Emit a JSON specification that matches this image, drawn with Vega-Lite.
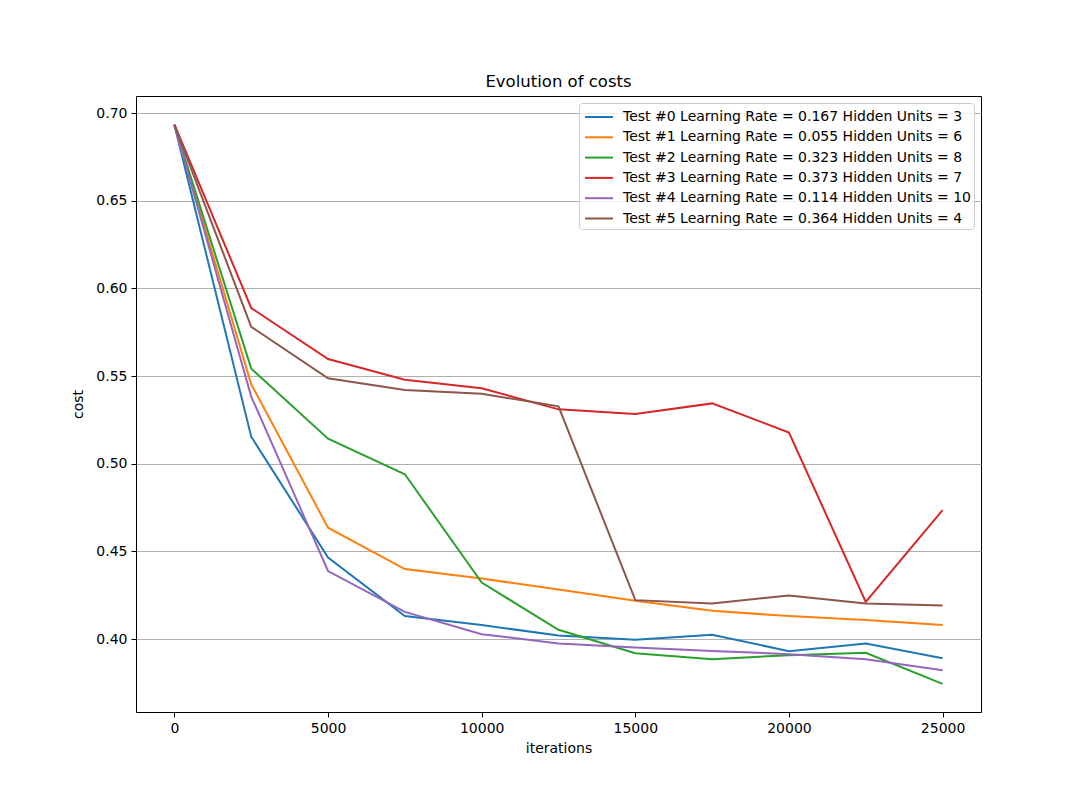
{
  "$schema": "https://vega.github.io/schema/vega-lite/v6.json",
  "description": "Evolution of costs for six training runs",
  "autosize": {"type": "none"},
  "padding": {"left": 136, "top": 96, "right": 109, "bottom": 88},
  "width": 845,
  "height": 616,
  "background": "white",
  "title": {"text": "Evolution of costs", "fontSize": 16.5, "fontWeight": "normal", "font": "DejaVu Sans", "color": "black", "offset": 6},
  "datasets": {
    "costs": [
      {"test": "Test #0 Learning Rate = 0.167 Hidden Units = 3", "iteration": 0, "cost": 0.6931},
      {"test": "Test #0 Learning Rate = 0.167 Hidden Units = 3", "iteration": 2500, "cost": 0.5154},
      {"test": "Test #0 Learning Rate = 0.167 Hidden Units = 3", "iteration": 5000, "cost": 0.4465},
      {"test": "Test #0 Learning Rate = 0.167 Hidden Units = 3", "iteration": 7500, "cost": 0.4131},
      {"test": "Test #0 Learning Rate = 0.167 Hidden Units = 3", "iteration": 10000, "cost": 0.408},
      {"test": "Test #0 Learning Rate = 0.167 Hidden Units = 3", "iteration": 12500, "cost": 0.402},
      {"test": "Test #0 Learning Rate = 0.167 Hidden Units = 3", "iteration": 15000, "cost": 0.3996},
      {"test": "Test #0 Learning Rate = 0.167 Hidden Units = 3", "iteration": 17500, "cost": 0.4025},
      {"test": "Test #0 Learning Rate = 0.167 Hidden Units = 3", "iteration": 20000, "cost": 0.3931},
      {"test": "Test #0 Learning Rate = 0.167 Hidden Units = 3", "iteration": 22500, "cost": 0.3975},
      {"test": "Test #0 Learning Rate = 0.167 Hidden Units = 3", "iteration": 25000, "cost": 0.389},
      {"test": "Test #1 Learning Rate = 0.055 Hidden Units = 6", "iteration": 0, "cost": 0.6931},
      {"test": "Test #1 Learning Rate = 0.055 Hidden Units = 6", "iteration": 2500, "cost": 0.5453},
      {"test": "Test #1 Learning Rate = 0.055 Hidden Units = 6", "iteration": 5000, "cost": 0.4635},
      {"test": "Test #1 Learning Rate = 0.055 Hidden Units = 6", "iteration": 7500, "cost": 0.4399},
      {"test": "Test #1 Learning Rate = 0.055 Hidden Units = 6", "iteration": 10000, "cost": 0.4345},
      {"test": "Test #1 Learning Rate = 0.055 Hidden Units = 6", "iteration": 12500, "cost": 0.4282},
      {"test": "Test #1 Learning Rate = 0.055 Hidden Units = 6", "iteration": 15000, "cost": 0.4218},
      {"test": "Test #1 Learning Rate = 0.055 Hidden Units = 6", "iteration": 17500, "cost": 0.4161},
      {"test": "Test #1 Learning Rate = 0.055 Hidden Units = 6", "iteration": 20000, "cost": 0.4131},
      {"test": "Test #1 Learning Rate = 0.055 Hidden Units = 6", "iteration": 22500, "cost": 0.4108},
      {"test": "Test #1 Learning Rate = 0.055 Hidden Units = 6", "iteration": 25000, "cost": 0.408},
      {"test": "Test #2 Learning Rate = 0.323 Hidden Units = 8", "iteration": 0, "cost": 0.6931},
      {"test": "Test #2 Learning Rate = 0.323 Hidden Units = 8", "iteration": 2500, "cost": 0.5542},
      {"test": "Test #2 Learning Rate = 0.323 Hidden Units = 8", "iteration": 5000, "cost": 0.5143},
      {"test": "Test #2 Learning Rate = 0.323 Hidden Units = 8", "iteration": 7500, "cost": 0.494},
      {"test": "Test #2 Learning Rate = 0.323 Hidden Units = 8", "iteration": 10000, "cost": 0.4322},
      {"test": "Test #2 Learning Rate = 0.323 Hidden Units = 8", "iteration": 12500, "cost": 0.4053},
      {"test": "Test #2 Learning Rate = 0.323 Hidden Units = 8", "iteration": 15000, "cost": 0.3919},
      {"test": "Test #2 Learning Rate = 0.323 Hidden Units = 8", "iteration": 17500, "cost": 0.3885},
      {"test": "Test #2 Learning Rate = 0.323 Hidden Units = 8", "iteration": 20000, "cost": 0.3908},
      {"test": "Test #2 Learning Rate = 0.323 Hidden Units = 8", "iteration": 22500, "cost": 0.3922},
      {"test": "Test #2 Learning Rate = 0.323 Hidden Units = 8", "iteration": 25000, "cost": 0.3744},
      {"test": "Test #3 Learning Rate = 0.373 Hidden Units = 7", "iteration": 0, "cost": 0.6935},
      {"test": "Test #3 Learning Rate = 0.373 Hidden Units = 7", "iteration": 2500, "cost": 0.5888},
      {"test": "Test #3 Learning Rate = 0.373 Hidden Units = 7", "iteration": 5000, "cost": 0.5597},
      {"test": "Test #3 Learning Rate = 0.373 Hidden Units = 7", "iteration": 7500, "cost": 0.5479},
      {"test": "Test #3 Learning Rate = 0.373 Hidden Units = 7", "iteration": 10000, "cost": 0.543},
      {"test": "Test #3 Learning Rate = 0.373 Hidden Units = 7", "iteration": 12500, "cost": 0.531},
      {"test": "Test #3 Learning Rate = 0.373 Hidden Units = 7", "iteration": 15000, "cost": 0.5283},
      {"test": "Test #3 Learning Rate = 0.373 Hidden Units = 7", "iteration": 17500, "cost": 0.5344},
      {"test": "Test #3 Learning Rate = 0.373 Hidden Units = 7", "iteration": 20000, "cost": 0.5178},
      {"test": "Test #3 Learning Rate = 0.373 Hidden Units = 7", "iteration": 22500, "cost": 0.4212},
      {"test": "Test #3 Learning Rate = 0.373 Hidden Units = 7", "iteration": 25000, "cost": 0.4735},
      {"test": "Test #4 Learning Rate = 0.114 Hidden Units = 10", "iteration": 0, "cost": 0.6931},
      {"test": "Test #4 Learning Rate = 0.114 Hidden Units = 10", "iteration": 2500, "cost": 0.5383},
      {"test": "Test #4 Learning Rate = 0.114 Hidden Units = 10", "iteration": 5000, "cost": 0.4388},
      {"test": "Test #4 Learning Rate = 0.114 Hidden Units = 10", "iteration": 7500, "cost": 0.4155},
      {"test": "Test #4 Learning Rate = 0.114 Hidden Units = 10", "iteration": 10000, "cost": 0.4028},
      {"test": "Test #4 Learning Rate = 0.114 Hidden Units = 10", "iteration": 12500, "cost": 0.3975},
      {"test": "Test #4 Learning Rate = 0.114 Hidden Units = 10", "iteration": 15000, "cost": 0.3952},
      {"test": "Test #4 Learning Rate = 0.114 Hidden Units = 10", "iteration": 17500, "cost": 0.3932},
      {"test": "Test #4 Learning Rate = 0.114 Hidden Units = 10", "iteration": 20000, "cost": 0.3914},
      {"test": "Test #4 Learning Rate = 0.114 Hidden Units = 10", "iteration": 22500, "cost": 0.3885},
      {"test": "Test #4 Learning Rate = 0.114 Hidden Units = 10", "iteration": 25000, "cost": 0.3822},
      {"test": "Test #5 Learning Rate = 0.364 Hidden Units = 4", "iteration": 0, "cost": 0.6933},
      {"test": "Test #5 Learning Rate = 0.364 Hidden Units = 4", "iteration": 2500, "cost": 0.5781},
      {"test": "Test #5 Learning Rate = 0.364 Hidden Units = 4", "iteration": 5000, "cost": 0.5487},
      {"test": "Test #5 Learning Rate = 0.364 Hidden Units = 4", "iteration": 7500, "cost": 0.542},
      {"test": "Test #5 Learning Rate = 0.364 Hidden Units = 4", "iteration": 10000, "cost": 0.5399},
      {"test": "Test #5 Learning Rate = 0.364 Hidden Units = 4", "iteration": 12500, "cost": 0.5327},
      {"test": "Test #5 Learning Rate = 0.364 Hidden Units = 4", "iteration": 15000, "cost": 0.4222},
      {"test": "Test #5 Learning Rate = 0.364 Hidden Units = 4", "iteration": 17500, "cost": 0.4203},
      {"test": "Test #5 Learning Rate = 0.364 Hidden Units = 4", "iteration": 20000, "cost": 0.4249},
      {"test": "Test #5 Learning Rate = 0.364 Hidden Units = 4", "iteration": 22500, "cost": 0.4203},
      {"test": "Test #5 Learning Rate = 0.364 Hidden Units = 4", "iteration": 25000, "cost": 0.4192}
    ]
  },
  "data": {"name": "costs"},
  "mark": {"type": "line", "strokeWidth": 2, "clip": true},
  "encoding": {
    "x": {
      "field": "iteration",
      "type": "quantitative",
      "title": "iterations",
      "scale": {"domain": [-1250, 26250], "nice": false, "zero": false},
      "axis": {"values": [0, 5000, 10000, 15000, 20000, 25000], "format": "d", "grid": false}
    },
    "y": {
      "field": "cost",
      "type": "quantitative",
      "title": "cost",
      "scale": {"domain": [0.3584, 0.7097], "nice": false, "zero": false},
      "axis": {"values": [0.4, 0.45, 0.5, 0.55, 0.6, 0.65, 0.7], "format": ".2f", "grid": true}
    },
    "color": {
      "field": "test",
      "type": "nominal",
      "title": null,
      "scale": {"range": ["#1f77b4", "#ff7f0e", "#2ca02c", "#d62728", "#9467bd", "#8c564b"]},
      "legend": {
        "orient": "top-right",
        "offset": 7,
        "symbolType": "M-1.4,0H1.4",
        "symbolSize": 400,
        "symbolStrokeWidth": 2,
        "symbolOffset": 6,
        "labelFontSize": 14,
        "labelColor": "black",
        "labelFont": "DejaVu Sans",
        "labelLimit": 500,
        "labelOffset": 13,
        "rowPadding": 2.3,
        "padding": 3,
        "fillColor": "rgba(255,255,255,0.8)",
        "strokeColor": "#cccccc",
        "cornerRadius": 3
      }
    }
  },
  "config": {
    "font": "DejaVu Sans",
    "view": {"stroke": "black", "strokeWidth": 1},
    "axis": {
      "domain": false,
      "tickColor": "black",
      "tickSize": 5,
      "labelFontSize": 14,
      "labelColor": "black",
      "labelPadding": 4,
      "titleFontSize": 14,
      "titleFontWeight": "normal",
      "titleColor": "black",
      "gridColor": "#b0b0b0",
      "gridWidth": 1
    },
    "axisX": {"titlePadding": 6},
    "axisY": {"titlePadding": 10}
  }
}
